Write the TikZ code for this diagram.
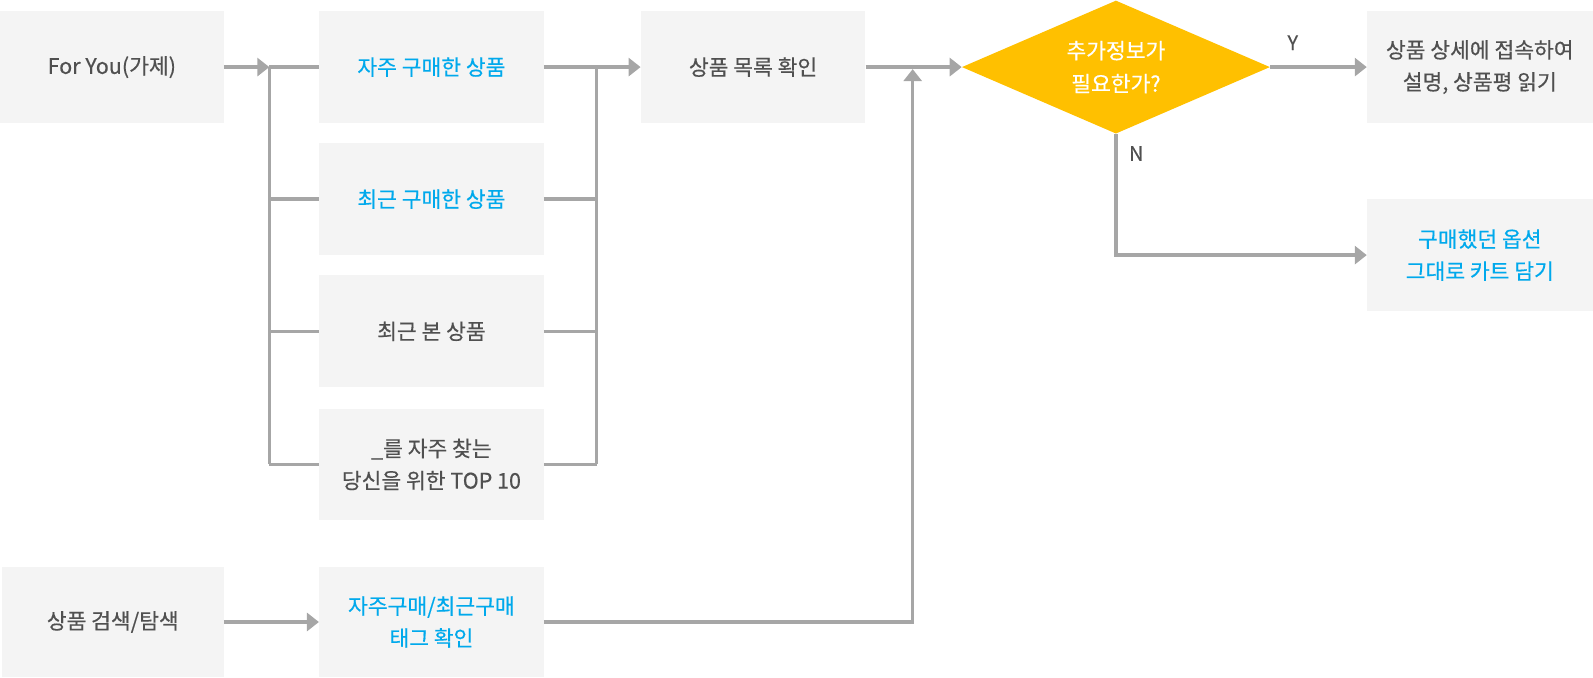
\documentclass[tikz,border=0pt]{standalone}
\usepackage{fontspec}
\setmainfont{Noto Sans CJK KR}[FakeBold=0.4]
\usetikzlibrary{arrows.meta,shapes.geometric}
\definecolor{boxfill}{HTML}{F4F4F4}
\definecolor{txtgray}{HTML}{505050}
\definecolor{txtblue}{HTML}{00A9EC}
\definecolor{linegray}{HTML}{A6A6A6}
\definecolor{decfill}{HTML}{FFC000}
\tikzset{
  box/.style={rectangle, fill=boxfill, minimum width=224.6pt, minimum height=111.8pt, inner sep=0pt,
    align=center, text=txtgray, font=\fontsize{21.5}{32}\selectfont},
  bluebox/.style={box, text=txtblue},
  decbox/.style={diamond, aspect=2.32, fill=decfill, minimum width=308pt, minimum height=133pt, inner sep=0pt,
    align=center, text=white, font=\fontsize{21.5}{33}\selectfont},
  conn/.style={draw=linegray, line width=3.5pt},
  arr/.style={conn, -{Triangle[length=12pt,width=18pt]}},
  lbl/.style={text=txtgray, font=\fontsize{20}{20}\selectfont, inner sep=0pt}
}
\begin{document}
\begin{tikzpicture}[x=1.0163pt,y=-1.0163pt]
\useasboundingbox (0,0) rectangle (1567.4,667.1);
% nodes
\node[box, minimum width=223.6pt] (fy) at (110,66) {For You(가제)};
\node[bluebox] (a1) at (424.5,66) {자주 구매한 상품};
\node[bluebox] (a2) at (424.5,196) {최근 구매한 상품};
\node[box] (a3) at (424.5,326) {최근 본 상품};
\node[box] (a4) at (424.5,457) {\_를 자주 찾는\\당신을 위한 TOP 10};
\node[box] (list) at (741,66) {상품 목록 확인};
\node[decbox] (dec) at (1098,66) {추가정보가\\필요한가?};
\node[box, minimum width=225.6pt] (r1) at (1456,66) {상품 상세에 접속하여\\설명, 상품평 읽기};
\node[bluebox, minimum width=225.6pt] (r2) at (1456,251) {구매했던 옵션\\그대로 카트 담기};
\node[box, minimum width=221.6pt, minimum height=110.8pt] (s1) at (111,612) {상품 검색/탐색};
\node[bluebox, minimum height=110.8pt] (s2) at (424.5,612) {자주구매/최근구매\\태그 확인};
% bus coordinates
\coordinate (bl1) at (265,66);
\coordinate (bl2) at (265,196);
\coordinate (bl3) at (265,326);
\coordinate (bl4) at (265,457);
\coordinate (br1) at (587,66);
\coordinate (br2) at (587,196);
\coordinate (br3) at (587,326);
\coordinate (br4) at (587,457);
\coordinate (join) at (898,68);
% connectors
\draw[arr] (fy.east) -- (bl1);
\draw[conn] (bl1) -- (bl4);
\draw[conn] (bl1) -- (a1.west);
\draw[conn] (bl2) -- (a2.west);
\draw[conn] (bl3) -- (a3.west);
\draw[conn] (bl4) -- (a4.west);
\draw[conn] (a1.east) -- (br1);
\draw[conn] (a2.east) -- (br2);
\draw[conn] (a3.east) -- (br3);
\draw[conn] (a4.east) -- (br4);
\draw[conn] (br1) -- (br4);
\draw[arr] (br1) -- (list.west);
\draw[arr] (list.east) -- (dec.west);
\draw[arr] (s1.east) -- (s2.west);
\draw[arr] (s2.east) -| (join);
\draw[arr] (dec.east) -- (r1.west);
\draw[arr] (dec.south) |- (r2.west);
\node[lbl] (ylbl) at (1272,42) {Y};
\node[lbl] (nlbl) at (1118,151) {N};
\end{tikzpicture}
\end{document}
